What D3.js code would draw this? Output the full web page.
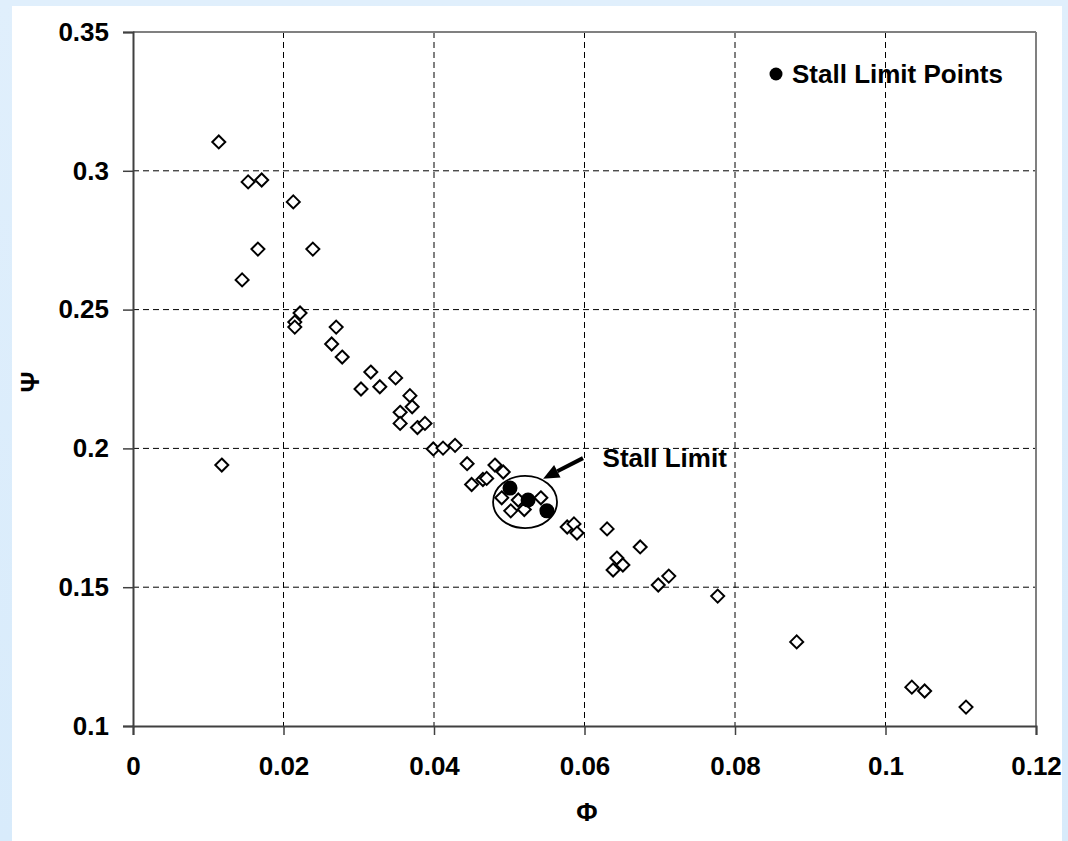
<!DOCTYPE html>
<html>
<head>
<meta charset="utf-8">
<script src="https://cdn.jsdelivr.net/npm/d3@7"></script>
<style>
  body { margin: 0; background: #e2f0fc; }
  svg { display: block; }
  text { font-family: "Liberation Sans", Arial, sans-serif; font-weight: bold; fill: #000; }
</style>
</head>
<body>
<svg id="chart"></svg>
<script>
// measured points (flow coefficient phi, head coefficient psi)
const phi = [0.0114, 0.0153, 0.0171, 0.0213, 0.0166, 0.0239, 0.0145, 0.0222, 0.0215, 0.0215,
             0.0270, 0.0118, 0.0264, 0.0278, 0.0316, 0.0303, 0.0328, 0.0349, 0.0368, 0.0371,
             0.0355, 0.0355, 0.0378, 0.0388, 0.0399, 0.0412, 0.0428, 0.0444, 0.0450, 0.0465,
             0.0470, 0.0481, 0.0492, 0.0490, 0.0502, 0.0520, 0.0542, 0.0512, 0.0577, 0.0586,
             0.0590, 0.0630, 0.0674, 0.0643, 0.0651, 0.0638, 0.0712, 0.0698, 0.0777, 0.0882,
             0.1035, 0.1052, 0.1107];
const psi = [0.3104, 0.2960, 0.2967, 0.2888, 0.2718, 0.2718, 0.2607, 0.2488, 0.2455, 0.2437,
             0.2437, 0.1940, 0.2376, 0.2329, 0.2275, 0.2214, 0.2222, 0.2254, 0.2190, 0.2150,
             0.2130, 0.2090, 0.2075, 0.2090, 0.1998, 0.2001, 0.2011, 0.1945, 0.1870, 0.1888,
             0.1892, 0.1940, 0.1915, 0.1822, 0.1775, 0.1780, 0.1822, 0.1814, 0.1717, 0.1728,
             0.1695, 0.1710, 0.1645, 0.1605, 0.1580, 0.1562, 0.1540, 0.1508, 0.1468, 0.1303,
             0.1140, 0.1126, 0.1068];

// stall limit points
const stallPhi = [0.0501, 0.0525, 0.0550];
const stallPsi = [0.1857, 0.1814, 0.1775];

const xTicks = [0, 0.02, 0.04, 0.06, 0.08, 0.1, 0.12];
const yTicks = [0.1, 0.15, 0.2, 0.25, 0.3, 0.35];

const W = 1068, H = 841;
const margin = { top: 32, right: 32, bottom: 115, left: 133 };
const width = W - margin.left - margin.right;
const height = H - margin.top - margin.bottom;
const fs = '26px';

const svg = d3.select('#chart').attr('width', W).attr('height', H);

// page backdrop: light blue with a white panel
const defs = svg.append('defs');
const grad = defs.append('linearGradient').attr('id', 'bg').attr('x1', 0).attr('y1', 0).attr('x2', 0).attr('y2', 1);
grad.append('stop').attr('offset', '0%').attr('stop-color', '#e0effc');
grad.append('stop').attr('offset', '100%').attr('stop-color', '#d8ebfb');
svg.append('rect').attr('width', W).attr('height', H).attr('fill', 'url(#bg)');
svg.append('rect').attr('x', 12).attr('y', 6).attr('width', 1050).attr('height', H - 6).attr('fill', '#fff');

const x = d3.scaleLinear().domain([0, 0.12]).range([0, width]);
const y = d3.scaleLinear().domain([0.1, 0.35]).range([height, 0]);

const g = svg.append('g').attr('transform', `translate(${margin.left},${margin.top})`);

// dashed grid
g.selectAll('.vgrid').data(xTicks.slice(1, -1)).join('line')
  .attr('x1', d => x(d)).attr('x2', d => x(d)).attr('y1', 0).attr('y2', height)
  .attr('stroke', '#000').attr('stroke-width', 1).attr('stroke-dasharray', '6,4');
g.selectAll('.hgrid').data(yTicks.slice(1, -1)).join('line')
  .attr('y1', d => y(d)).attr('y2', d => y(d)).attr('x1', 0).attr('x2', width)
  .attr('stroke', '#000').attr('stroke-width', 1).attr('stroke-dasharray', '6,4');

// plot frame (top/right lighter)
g.append('line').attr('x1', 0).attr('x2', width).attr('y1', 0).attr('y2', 0)
  .attr('stroke', '#808080').attr('stroke-width', 2);
g.append('line').attr('x1', width).attr('x2', width).attr('y1', 0).attr('y2', height)
  .attr('stroke', '#808080').attr('stroke-width', 2);

// axes
const xAxis = d3.axisBottom(x).tickValues(xTicks).tickFormat(d3.format('')).tickSize(9).tickPadding(22);
const yAxis = d3.axisLeft(y).tickValues(yTicks).tickFormat(d3.format('')).tickSize(10).tickPadding(14);

const xg = g.append('g').attr('transform', `translate(0,${height})`).call(xAxis);
const yg = g.append('g').call(yAxis);
[xg, yg].forEach(a => {
  a.select('.domain').attr('stroke', '#404040').attr('stroke-width', 2);
  a.selectAll('.tick line').attr('stroke', '#404040').attr('stroke-width', 1.5);
  a.selectAll('.tick text').style('font-size', fs).style('font-weight', 'bold')
    .style('font-family', '"Liberation Sans", Arial, sans-serif').attr('fill', '#000');
});

// axis titles
svg.append('text').attr('x', 587).attr('y', 821).attr('text-anchor', 'middle')
  .style('font-size', fs).text('Φ');
svg.append('text').attr('transform', 'translate(39,382) rotate(-90)').attr('text-anchor', 'middle')
  .style('font-size', fs).text('Ψ');

// diamonds
const diamond = 'M0,-6.5L6.5,0L0,6.5L-6.5,0Z';
g.selectAll('.pt').data(phi.map((p, i) => [p, psi[i]])).join('path')
  .attr('d', diamond)
  .attr('transform', d => `translate(${x(d[0])},${y(d[1])})`)
  .attr('fill', '#fff').attr('stroke', '#000').attr('stroke-width', 2);

// stall points
g.selectAll('.stall').data(stallPhi.map((p, i) => [p, stallPsi[i]])).join('circle')
  .attr('cx', d => x(d[0])).attr('cy', d => y(d[1])).attr('r', 7.5).attr('fill', '#000');

// ring around stall region
g.append('ellipse')
  .attr('cx', x(0.0521)).attr('cy', y(0.1807))
  .attr('rx', x(0.0521 + 0.00425) - x(0.0521)).attr('ry', y(0.1807) - y(0.1807 + 0.0094))
  .attr('fill', 'none').attr('stroke', '#000').attr('stroke-width', 1.8);

// arrow
const ax0 = x(0.0598), ay0 = y(0.1965), ax1 = x(0.0545), ay1 = y(0.1891);
const ang = Math.atan2(ay1 - ay0, ax1 - ax0);
const hl = 16, hw = 7;
const bx = ax1 - hl * Math.cos(ang), by = ay1 - hl * Math.sin(ang);
g.append('line').attr('x1', ax0).attr('y1', ay0).attr('x2', bx).attr('y2', by)
  .attr('stroke', '#000').attr('stroke-width', 4);
g.append('path')
  .attr('d', `M${ax1},${ay1}L${bx + hw * Math.sin(ang)},${by - hw * Math.cos(ang)}L${bx - hw * Math.sin(ang)},${by + hw * Math.cos(ang)}Z`)
  .attr('fill', '#000');

g.append('text').attr('x', x(0.0624)).attr('y', y(0.1932)).style('font-size', fs).text('Stall Limit');

// legend
svg.append('circle').attr('cx', 776).attr('cy', 74).attr('r', 6.5).attr('fill', '#000');
svg.append('text').attr('x', 792).attr('y', 83).style('font-size', fs).text('Stall Limit Points');
</script>
</body>
</html>
